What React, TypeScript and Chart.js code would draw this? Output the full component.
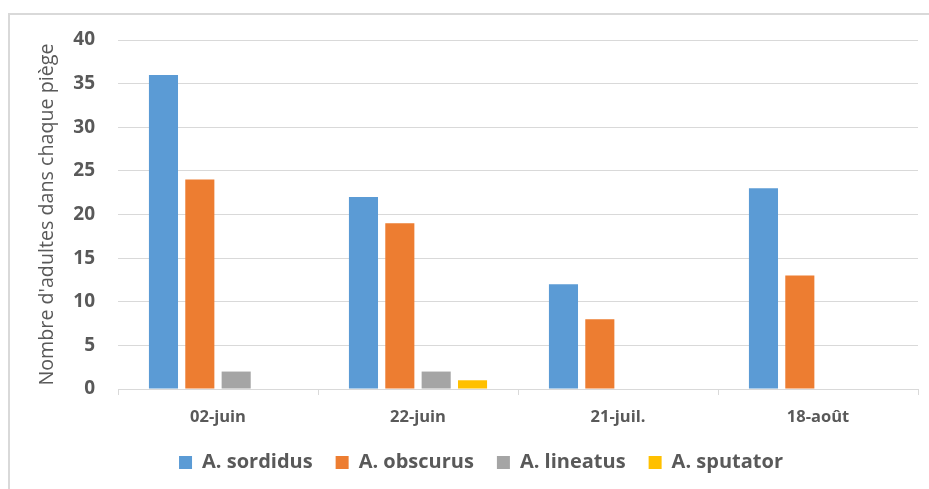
import { useEffect, useRef } from 'react';
import { Chart, registerables } from 'chart.js';

Chart.register(...registerables);

const categories = ['02-juin', '22-juin', '21-juil.', '18-août'];
const sordidus = [36, 22, 12, 23];
const obscurus = [24, 19, 8, 13];
const lineatus = [2, 2, 0, 0];
const sputator = [0, 1, 0, 0];
const seriesNames = ['A. sordidus', 'A. obscurus', 'A. lineatus', 'A. sputator'];
const yMin = 0;
const yMax = 40;
const yStep = 5;

const FONT = "'Open Sans', sans-serif";
const TEXT = '#595959';
const GRID = '#d9d9d9';

const shiftLegend = {
  id: 'shiftLegend',
  afterLayout(chart: any) {
    const l = chart.legend;
    if (l) {
      l.left += 22;
      l.right += 22;
    }
  },
};

export default function App() {
  const ref = useRef<HTMLCanvasElement | null>(null);

  useEffect(() => {
    if (!ref.current) return;
    const colors = ['#5B9BD5', '#ED7D31', '#A5A5A5', '#FFC000'];
    const values = [sordidus, obscurus, lineatus, sputator];
    const chart = new Chart(ref.current, {
      type: 'bar',
      data: {
        labels: categories,
        datasets: values.map((v, i) => ({
          label: seriesNames[i],
          data: v,
          backgroundColor: colors[i],
          borderWidth: 0,
          categoryPercentage: 0.727,
          barPercentage: 0.8,
        })),
      },
      plugins: [shiftLegend],
      options: {
        responsive: false,
        animation: false,
        devicePixelRatio: 1,
        layout: { padding: { left: 0, right: 11, top: 40, bottom: 6.5 } },
        plugins: {
          tooltip: { enabled: false },
          legend: {
            position: 'bottom',
            labels: {
              boxWidth: 13,
              boxHeight: 13,
              padding: 23,
              color: TEXT,
              font: { family: FONT, size: 20, weight: 'bold' },
            },
          },
        },
        scales: {
          x: {
            offset: true,
            afterFit: (s: any) => {
              s.height = 40.5;
            },
            grid: {
              offset: true,
              drawOnChartArea: false,
              drawTicks: true,
              tickLength: 6,
              color: GRID,
            },
            border: { color: GRID, width: 1 },
            ticks: {
              color: TEXT,
              padding: 12,
              font: { family: FONT, size: 16.5, weight: 'bold' },
            },
          },
          y: {
            min: yMin,
            max: yMax,
            afterFit: (s: any) => {
              s.width = 118;
            },
            grid: { color: GRID, drawTicks: false },
            border: { display: false },
            ticks: {
              stepSize: yStep,
              color: TEXT,
              padding: 23,
              font: { family: FONT, size: 19, weight: 'bold' },
            },
            title: {
              display: true,
              text: "Nombre d'adultes dans chaque piège",
              color: TEXT,
              padding: { top: 36, bottom: 0 },
              font: { family: FONT, size: 19.7 },
            },
          },
        },
      },
    });
    return () => chart.destroy();
  }, []);

  return (
    <div style={{ position: 'absolute', left: 0, top: 0, width: 929, height: 489, overflow: 'hidden', background: '#fff' }}>
      <div
        style={{
          position: 'absolute',
          left: 8,
          top: 13,
          width: 1000,
          height: 600,
          borderTop: '2px solid #d9d9d9',
          borderLeft: '2px solid #d9d9d9',
        }}
      />
      <canvas ref={ref} width={929} height={489} style={{ position: 'absolute', left: 0, top: 0 }} />
    </div>
  );
}
